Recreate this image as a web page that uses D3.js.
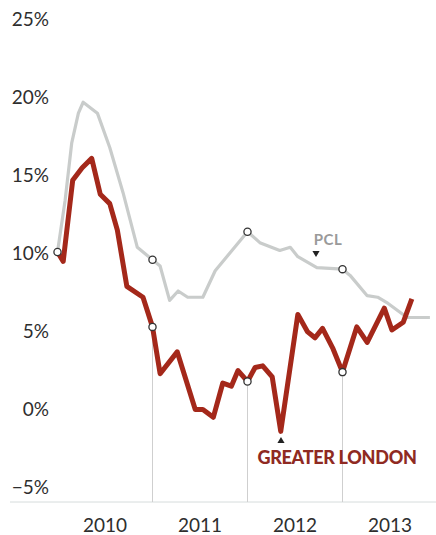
<!DOCTYPE html>
<html>
<head>
<meta charset="utf-8">
<script src="https://cdn.jsdelivr.net/npm/d3@7/dist/d3.min.js"></script>
<style>
  html, body { margin: 0; padding: 0; background: #fff; }
  svg { display: block; font-family: Lato, "Open Sans", sans-serif; }
</style>
</head>
<body>
<svg id="chart" width="436" height="535"></svg>
<script>
// Annual house price change, % — Greater London vs prime central London (PCL)
// times are decimal years
const londonT = [2010.0, 2010.06, 2010.16, 2010.26, 2010.36, 2010.45, 2010.55, 2010.63, 2010.73, 2010.9,
  2011.0, 2011.08, 2011.26, 2011.45, 2011.53, 2011.64, 2011.74, 2011.83, 2011.9,
  2012.0, 2012.08, 2012.16, 2012.26, 2012.35, 2012.53, 2012.63, 2012.71, 2012.79, 2012.9,
  2013.0, 2013.15, 2013.26, 2013.44, 2013.52, 2013.64, 2013.73];
const londonV = [10.0, 9.4, 14.6, 15.4, 16.0, 13.7, 13.1, 11.4, 7.8, 7.1,
  5.2, 2.2, 3.6, -0.1, -0.1, -0.6, 1.6, 1.4, 2.4,
  1.7, 2.6, 2.7, 2.0, -1.5, 6.0, 4.9, 4.5, 5.1, 3.8,
  2.3, 5.2, 4.2, 6.4, 5.0, 5.5, 7.0];

const pclT = [2010.0, 2010.08, 2010.15, 2010.22, 2010.27, 2010.42, 2010.55, 2010.69, 2010.84,
  2011.0, 2011.08, 2011.18, 2011.27, 2011.37, 2011.53, 2011.66,
  2012.0, 2012.13, 2012.34, 2012.45, 2012.53, 2012.73,
  2013.0, 2013.08, 2013.26, 2013.37, 2013.48, 2013.68, 2013.79, 2013.92];
const pclV = [10.0, 13.3, 17.0, 18.9, 19.6, 18.9, 16.7, 13.8, 10.3,
  9.5, 9.1, 6.9, 7.5, 7.1, 7.1, 8.8,
  11.3, 10.6, 10.1, 10.3, 9.7, 9.0,
  8.9, 8.5, 7.2, 7.1, 6.7, 5.8, 5.8, 5.8];

const yTicks = [25, 20, 15, 10, 5, 0, -5];
const years = [2010, 2011, 2012, 2013];
const markYears = [2011, 2012, 2013];

const london = londonT.map((t, i) => ({ t, v: londonV[i] }));
const pcl = pclT.map((t, i) => ({ t, v: pclV[i] }));

const svg = d3.select('#chart');
const x = d3.scaleLinear().domain([2010, 2014]).range([57.5, 437.5]);
const y = d3.scaleLinear().domain([-6, 25]).range([501.6, 18]);

// y labels
svg.append('g')
  .selectAll('text')
  .data(yTicks)
  .join('text')
  .attr('x', 49)
  .attr('y', d => y(d) + 8)
  .attr('text-anchor', 'end')
  .attr('fill', '#2e2e2e')
  .style('font-size', '19px')
  .text(d => (d < 0 ? '\u2212' + Math.abs(d) : d) + '%');

// x axis line + year labels centred in each year
svg.append('line')
  .attr('x1', 10).attr('x2', 436)
  .attr('y1', 502).attr('y2', 502)
  .attr('stroke', '#d6dcdc').attr('stroke-width', 1);

svg.append('g')
  .selectAll('text')
  .data(years)
  .join('text')
  .attr('x', d => x(d + 0.5))
  .attr('y', 532)
  .attr('text-anchor', 'middle')
  .attr('fill', '#2e2e2e')
  .style('font-size', '19px')
  .text(d => d);

// drop lines from the January markers
const byT = new Map(london.map(d => [d.t, d.v]));
svg.append('g')
  .selectAll('line')
  .data(markYears)
  .join('line')
  .attr('x1', d => x(d)).attr('x2', d => x(d))
  .attr('y1', d => y(byT.get(d)) + 4)
  .attr('y2', 502)
  .attr('stroke', '#cfcfcf').attr('stroke-width', 1);

const line = d3.line().x(d => x(d.t)).y(d => y(d.v));

svg.append('path')
  .datum(pcl)
  .attr('d', line)
  .attr('fill', 'none')
  .attr('stroke', '#c9cccb')
  .attr('stroke-width', 3.2)
  .attr('stroke-linejoin', 'round');

svg.append('path')
  .datum(london)
  .attr('d', line)
  .attr('fill', 'none')
  .attr('stroke', '#a4281a')
  .attr('stroke-width', 5)
  .attr('stroke-linejoin', 'round');

// January markers
const marks = pcl.filter(d => Number.isInteger(d.t))
  .concat(london.filter(d => Number.isInteger(d.t) && d.t > 2010));
svg.append('g')
  .selectAll('circle')
  .data(marks)
  .join('circle')
  .attr('cx', d => x(d.t))
  .attr('cy', d => y(d.v))
  .attr('r', 3.6)
  .attr('fill', '#fff')
  .attr('stroke', '#333')
  .attr('stroke-width', 1.3);

// labels
svg.append('text')
  .attr('x', 328).attr('y', 245)
  .attr('text-anchor', 'middle')
  .attr('fill', '#9a9a9a')
  .style('font-size', '15px')
  .style('font-weight', 700)
  .style('letter-spacing', '0.5px')
  .text('PCL');
svg.append('path')
  .attr('d', d3.symbol(d3.symbolTriangle, 22)())
  .attr('transform', 'translate(316,253) rotate(180)')
  .attr('fill', '#222');

svg.append('text')
  .attr('x', 337).attr('y', 464)
  .attr('text-anchor', 'middle')
  .attr('fill', '#8f2a22')
  .style('font-size', '18px')
  .style('font-weight', 900)
  .style('letter-spacing', '-0.3px')
  .text('GREATER LONDON');
svg.append('path')
  .attr('d', d3.symbol(d3.symbolTriangle, 22)())
  .attr('transform', 'translate(281,441)')
  .attr('fill', '#222');
</script>
</body>
</html>
